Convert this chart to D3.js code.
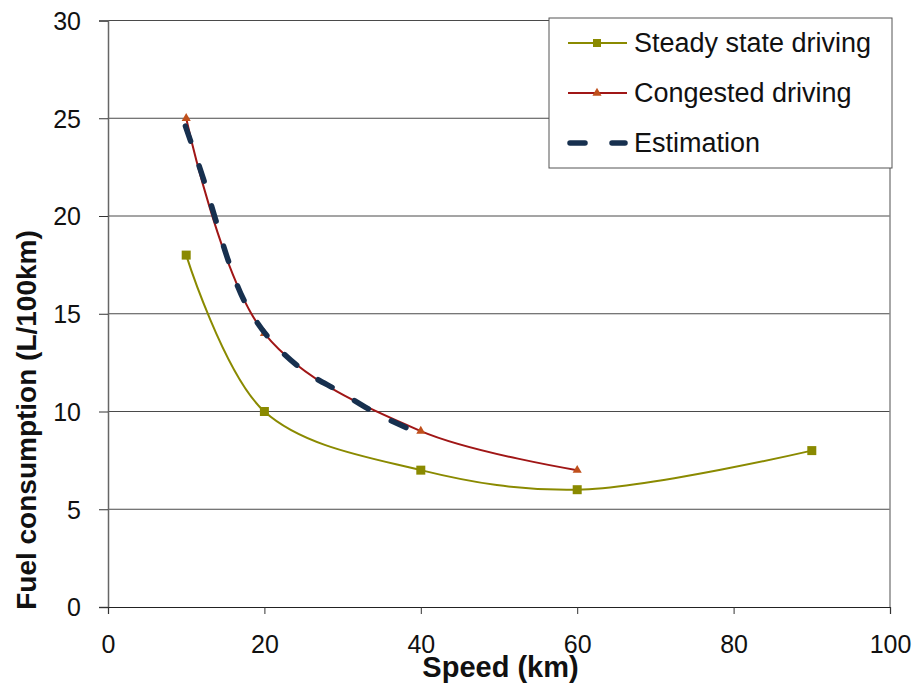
<!DOCTYPE html>
<html><head><meta charset="utf-8">
<script src="https://cdn.jsdelivr.net/npm/d3@7"></script>
<style>body{margin:0;background:#fff}svg{display:block}text{font-family:"Liberation Sans",Arial,sans-serif}</style>
</head><body>
<svg id="c" width="915" height="683"></svg>
<script>
const steadySpeed = [10, 20, 40, 60, 90];
const steadyFuel = [18, 10, 7, 6, 8];
const congSpeed = [10, 20, 40, 60];
const congFuel = [25, 14, 9, 7];
const estSpeed = [9.9, 12.2, 13.7, 15.4, 17.5, 20.7, 25.0, 29.7, 34.8, 39.7];
const estFuel = [24.6, 21.9, 19.9, 17.7, 15.6, 13.7, 12.1, 11.0, 9.8, 8.9];
const xTicks = [0, 20, 40, 60, 80, 100];
const yTicks = [0, 5, 10, 15, 20, 25, 30];
const seriesNames = ["Steady state driving", "Congested driving", "Estimation"];

const svg = d3.select("#c");
const x = d3.scaleLinear().domain([0, 100]).range([108, 890]);
const y = d3.scaleLinear().domain([0, 30]).range([607, 20.5]);

// gridlines
svg.append("g").selectAll("line").data(yTicks.filter(d => d > 0)).join("line")
  .attr("x1", x(0)).attr("x2", x(100)).attr("y1", d => y(d)).attr("y2", d => y(d))
  .attr("stroke", "#4a4a4a").attr("stroke-width", 1);
// right border
svg.append("line").attr("x1", x(100)).attr("x2", x(100)).attr("y1", y(30)).attr("y2", y(0))
  .attr("stroke", "#8a8a8a").attr("stroke-width", 1.5);

// axes
const yAxis = svg.append("g").attr("transform", `translate(${x(0)},0)`)
  .call(d3.axisLeft(y).tickValues(yTicks).tickSize(9).tickPadding(18).tickFormat(d3.format("d")));
const xAxis = svg.append("g").attr("transform", `translate(0,${y(0)})`)
  .call(d3.axisBottom(x).tickValues(xTicks).tickSize(7).tickPadding(21).tickFormat(d3.format("d")));
yAxis.select(".domain").attr("stroke", "#666").attr("stroke-width", 1.5);
xAxis.select(".domain").attr("stroke", "#222").attr("stroke-width", 1.2);
[yAxis, xAxis].forEach(a => {
  a.selectAll(".tick line").attr("stroke", "#333");
  a.selectAll(".tick text").attr("font-size", 25).attr("fill", "#111")
    .style("font-family", '"Liberation Sans",Arial,sans-serif');
});
yAxis.selectAll(".tick text").attr("dy", "0.35em");

const curve = d3.curveCatmullRom.alpha(0.5);
const line = d3.line().x(d => x(d[0])).y(d => y(d[1])).curve(curve);

const steady = steadySpeed.map((s, i) => [s, steadyFuel[i]]);
const cong = congSpeed.map((s, i) => [s, congFuel[i]]);
const est = estSpeed.map((s, i) => [s, estFuel[i]]);

const cSteady = "#8a8a00", cCongLine = "#a01616", cCongMark = "#c0501c", cEst = "#17304f";

svg.append("path").datum(steady).attr("d", line).attr("fill", "none").attr("stroke", cSteady).attr("stroke-width", 2);
svg.append("path").datum(cong).attr("d", line).attr("fill", "none").attr("stroke", cCongLine).attr("stroke-width", 2);

svg.append("g").selectAll("rect").data(steady).join("rect")
  .attr("x", d => x(d[0]) - 4.5).attr("y", d => y(d[1]) - 4.5).attr("width", 9).attr("height", 9).attr("fill", cSteady);
const tri = d3.symbol().type(d3.symbolTriangle).size(36);
svg.append("g").selectAll("path").data(cong).join("path")
  .attr("transform", d => `translate(${x(d[0])},${y(d[1])})`).attr("d", tri).attr("fill", cCongMark);

svg.append("path").datum(est).attr("d", line).attr("fill", "none").attr("stroke", cEst)
  .attr("stroke-width", 5.5).attr("stroke-linecap", "round").attr("stroke-dasharray", "16 26");

// legend
const lg = svg.append("g");
lg.append("rect").attr("x", 549).attr("y", 18).attr("width", 343).attr("height", 150)
  .attr("fill", "#fff").attr("stroke", "#555").attr("stroke-width", 1);
const rows = [43, 93, 143];
seriesNames.forEach((name, i) => {
  const cy = rows[i];
  if (i < 2) {
    lg.append("line").attr("x1", 568).attr("x2", 627).attr("y1", cy).attr("y2", cy)
      .attr("stroke", i === 0 ? cSteady : cCongLine).attr("stroke-width", 2);
    if (i === 0) lg.append("rect").attr("x", 593).attr("y", cy - 4).attr("width", 8).attr("height", 8).attr("fill", cSteady);
    else lg.append("path").attr("transform", `translate(597,${cy})`).attr("d", tri).attr("fill", cCongMark);
  } else {
    lg.append("line").attr("x1", 570).attr("x2", 625).attr("y1", cy).attr("y2", cy)
      .attr("stroke", cEst).attr("stroke-width", 5.5).attr("stroke-linecap", "round").attr("stroke-dasharray", "15 27");
  }
  lg.append("text").attr("x", 634).attr("y", cy + 9).attr("font-size", 27).attr("fill", "#111").text(name);
});

// axis titles
svg.append("text").attr("x", x(50) + 1.5).attr("y", 677).attr("text-anchor", "middle")
  .attr("font-size", 29).attr("font-weight", "bold").attr("fill", "#111").text("Speed (km)");
svg.append("text").attr("transform", "translate(36,420) rotate(-90)").attr("text-anchor", "middle")
  .attr("font-size", 28).attr("font-weight", "bold").attr("fill", "#111").text("Fuel consumption (L/100km)");
</script>
</body></html>
